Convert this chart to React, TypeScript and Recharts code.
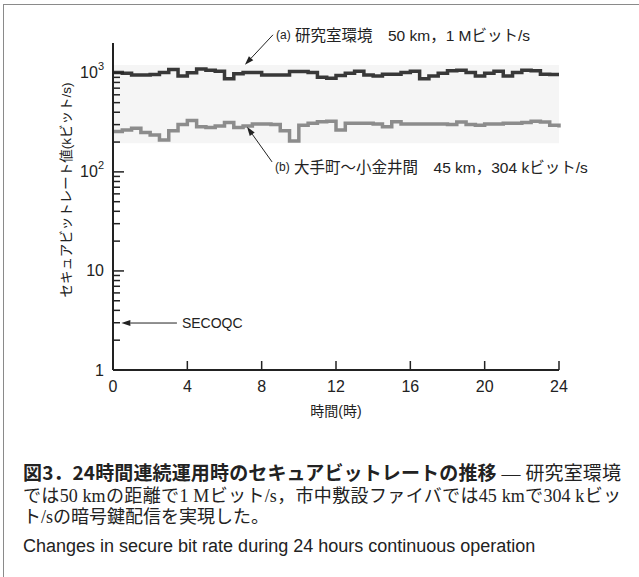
import React from 'react';
import { LineChart, Line, XAxis, YAxis, ReferenceArea, ReferenceLine } from 'recharts';

const hours = [0, 0.5, 1, 1.5, 2, 2.5, 3, 3.5, 4, 4.5, 5, 5.5, 6, 6.5, 7, 7.5, 8, 8.5, 9, 9.5, 10, 10.5, 11, 11.5, 12, 12.5, 13, 13.5, 14, 14.5, 15, 15.5, 16, 16.5, 17, 17.5, 18, 18.5, 19, 19.5, 20, 20.5, 21, 21.5, 22, 22.5, 23, 23.5, 24];

// (a) 研究室環境 50 km
const labRate = [1010, 990, 950, 950, 960, 1010, 1080, 930, 1000, 1090, 1060, 1040, 870, 980, 1010, 1010, 950, 950, 950, 1030, 1030, 1010, 900, 880, 940, 990, 1040, 950, 930, 970, 970, 1010, 1040, 870, 930, 990, 1050, 1060, 1010, 930, 990, 1040, 930, 1010, 1060, 1050, 970, 960, 960];

// (b) 大手町〜小金井間 45 km
const fieldRate = [255, 265, 275, 250, 235, 210, 260, 300, 330, 285, 280, 290, 315, 280, 290, 305, 305, 300, 260, 205, 295, 310, 320, 325, 265, 310, 310, 310, 305, 285, 320, 305, 305, 305, 305, 305, 300, 318, 300, 295, 305, 305, 310, 310, 315, 325, 318, 295, 280];

const xTicks = [0, 4, 8, 12, 16, 20, 24];
const yMajorTicks = [1, 10, 100, 1000];
const yMajorBase = ['1', '10', '10', '10'];
const yMajorExp = ['', '', '2', '3'];
const yMinorTicks = [2, 3, 4, 5, 6, 7, 8, 9, 20, 30, 40, 50, 60, 70, 80, 90, 200, 300, 400, 500, 600, 700, 800, 900];

const bandRange = [195, 1200];
const secoqcRate = 2.98;

const data = hours.map((h, i) => ({ h, a: labRate[i], b: fieldRate[i] }));
const yTicks = [...yMajorTicks, ...yMinorTicks].sort((p, q) => p - q);

const SANS = '"Liberation Sans", Arial, sans-serif';
const JP = '"Liberation Sans", "Noto Sans CJK JP", sans-serif';
const SERIF = '"Liberation Serif", "Noto Sans CJK JP", serif';
const INK = '#222';

const YTick = (props: any) => {
  const { x, y, payload } = props;
  const v = payload.value;
  const idx = yMajorTicks.indexOf(v);
  const major = idx >= 0;
  return (
    <g>
      <line x1={x} x2={x + (major ? 11 : 7)} y1={y} y2={y} stroke={INK} strokeWidth={1.5} />
      {major && (
        <text x={x - 9} y={y} textAnchor="end" dominantBaseline="central" fontSize={16} fill={INK} fontFamily={SANS}>
          {yMajorBase[idx]}
          {yMajorExp[idx] && (
            <tspan dy={-7} fontSize={11}>
              {yMajorExp[idx]}
            </tspan>
          )}
        </text>
      )}
    </g>
  );
};

const XTick = (props: any) => {
  const { x, y, payload } = props;
  return (
    <g>
      <line x1={x} x2={x} y1={y} y2={y - 9} stroke={INK} strokeWidth={1.5} />
      <text x={x} y={y + 16} textAnchor="middle" dominantBaseline="central" fontSize={16} fill={INK} fontFamily={SANS}>
        {payload.value}
      </text>
    </g>
  );
};

const arrowShape = (label: (x: number, y: number) => React.ReactNode) => (p: any) => {
  const { x1, y1, x2, y2 } = p;
  const ang = Math.atan2(y2 - y1, x2 - x1);
  const L = 9;
  const W = 3;
  const c = Math.cos(ang);
  const s = Math.sin(ang);
  const bx = x2 - L * c;
  const by = y2 - L * s;
  const pts = `${x2},${y2} ${bx + W * s},${by - W * c} ${bx - W * s},${by + W * c}`;
  return (
    <g>
      <line x1={x1} y1={y1} x2={bx} y2={by} stroke={INK} strokeWidth={1} />
      <polygon points={pts} fill={INK} />
      {label(x1, y1)}
    </g>
  );
};

const labelA = (x: number, y: number) => (
  <text x={x + 3} y={y} dominantBaseline="central" fill={INK} fontFamily={JP} fontSize={15.5}>
    <tspan fontSize={12}>(a)</tspan>
    <tspan> 研究室環境　50 km，1 Mビット/s</tspan>
  </text>
);
const labelB = (x: number, y: number) => (
  <text x={x + 3} y={y + 5} dominantBaseline="central" fill={INK} fontFamily={JP} fontSize={15.5}>
    <tspan fontSize={12}>(b)</tspan>
    <tspan> 大手町〜小金井間　45 km，304 kビット/s</tspan>
  </text>
);
const labelS = (x: number, y: number) => (
  <text x={x + 5} y={y} dominantBaseline="central" fill={INK} fontFamily={SANS} fontSize={14}>
    SECOQC
  </text>
);

export default function App() {
  return (
    <div style={{ position: 'absolute', left: 0, top: 0, width: 639, height: 577, background: '#fff', overflow: 'hidden' }}>
      <div style={{ position: 'absolute', left: 3, top: 4, width: 660, height: 600, borderTop: '1.5px solid #8a8a8a', borderLeft: '1.5px solid #8a8a8a' }} />
      <div style={{ position: 'absolute', left: 0, top: 0 }}>
        <LineChart width={639} height={577} data={data} margin={{ top: 43, right: 80, bottom: 177, left: 53 }}>
          <ReferenceArea x1={0} x2={24} y1={bandRange[0]} y2={bandRange[1]} fill="#f5f5f5" fillOpacity={1} stroke="none" ifOverflow="visible" />
          <XAxis
            dataKey="h"
            type="number"
            domain={[0, 24]}
            ticks={xTicks}
            interval={0}
            height={30}
            tickSize={0}
            tickMargin={0}
            tickLine={false}
            axisLine={{ stroke: INK, strokeWidth: 2 }}
            tick={<XTick />}
          />
          <YAxis
            type="number"
            scale="log"
            domain={[1, 2000]}
            allowDataOverflow
            ticks={yTicks}
            interval={0}
            width={60}
            tickSize={0}
            tickMargin={0}
            tickLine={false}
            axisLine={{ stroke: INK, strokeWidth: 2 }}
            tick={<YTick />}
          />
          <Line dataKey="b" type="stepAfter" stroke="#8c8c8c" strokeWidth={3.5} dot={false} isAnimationActive={false} />
          <Line dataKey="a" type="stepAfter" stroke="#383838" strokeWidth={3.5} dot={false} isAnimationActive={false} />
          <ReferenceLine segment={[{ x: 8.61, y: 2420 }, { x: 7.1, y: 1205 }]} ifOverflow="visible" shape={arrowShape(labelA)} />
          <ReferenceLine segment={[{ x: 8.56, y: 126 }, { x: 7.21, y: 285 }]} ifOverflow="visible" shape={arrowShape(labelB)} />
          <ReferenceLine segment={[{ x: 3.44, y: secoqcRate }, { x: 0.45, y: secoqcRate }]} ifOverflow="visible" shape={arrowShape(labelS)} />
        </LineChart>
      </div>
      <div
        style={{
          position: 'absolute',
          left: 65,
          top: 190,
          transform: 'translate(-50%, -50%) rotate(-90deg)',
          whiteSpace: 'nowrap',
          fontFamily: JP,
          fontSize: 13.5,
          color: INK,
        }}
      >
        セキュアビットレート値(kビット/s)
      </div>
      <div
        style={{
          position: 'absolute',
          left: 336,
          top: 410,
          transform: 'translate(-50%, -50%)',
          whiteSpace: 'nowrap',
          fontFamily: JP,
          fontSize: 14,
          color: INK,
        }}
      >
        時間(時)
      </div>
      <div style={{ position: 'absolute', left: 23, top: 460, width: 598, color: INK }}>
        <div style={{ fontSize: 19, lineHeight: '24px', textAlign: 'justify', textAlignLast: 'justify', whiteSpace: 'nowrap' as any }}>
          <span style={{ fontFamily: '"Noto Sans CJK JP", sans-serif', fontWeight: 700 }}>図3．24時間連続運用時のセキュアビットレートの推移</span>
          <span style={{ fontFamily: SERIF }}> — 研究室環境</span>
        </div>
        <div style={{ fontFamily: SERIF, fontSize: 18, lineHeight: '21px', textAlign: 'justify', textAlignLast: 'justify' }}>
          では50 kmの距離で1 Mビット/s，市中敷設ファイバでは45 kmで304 kビッ
        </div>
        <div style={{ fontFamily: SERIF, fontSize: 18, lineHeight: '21px' }}>ト/sの暗号鍵配信を実現した。</div>
        <div style={{ fontFamily: SANS, fontSize: 18, lineHeight: '22px', marginTop: 7 }}>
          Changes in secure bit rate during 24 hours continuous operation
        </div>
      </div>
    </div>
  );
}
